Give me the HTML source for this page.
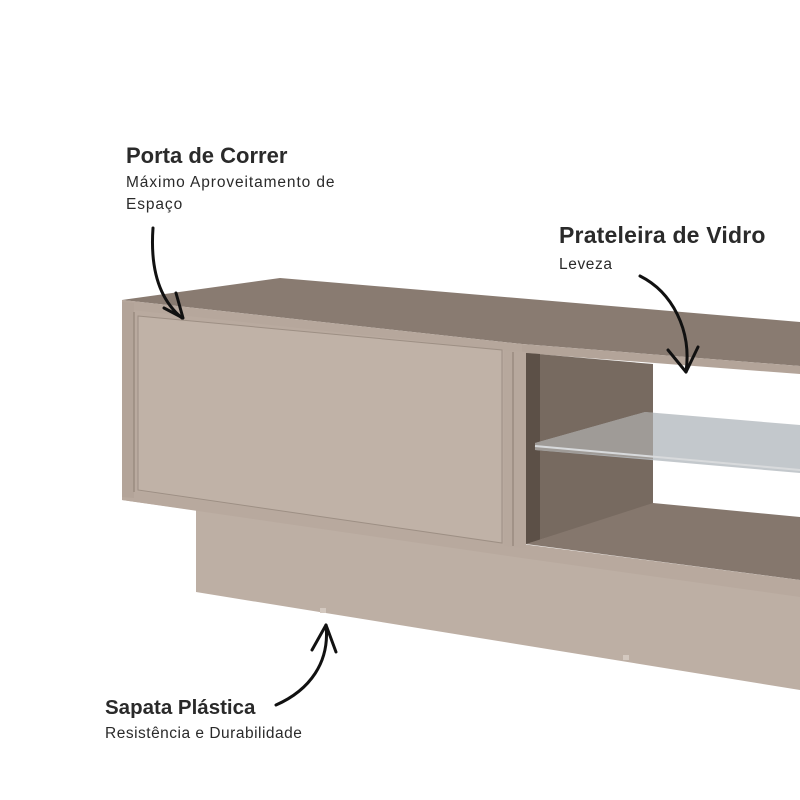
<!DOCTYPE html>
<html><head><meta charset="utf-8"><style>
html,body{margin:0;padding:0;background:#fff;}
svg{display:block}
text{font-family:"Liberation Sans",sans-serif;fill:#2a2a2a}
</style></head><body>
<svg width="800" height="800" viewBox="0 0 800 800" xmlns="http://www.w3.org/2000/svg">
<rect width="800" height="800" fill="#fff"/>
<polygon points="196,505 800,585 800,690 196,592" fill="#bdafa4"/>
<polygon points="122,300 522,346 522,556 122,500" fill="#b9aa9f"/>
<polygon points="280,278 800,322 800,366 522,344 122,300" fill="#897b71"/>
<polygon points="122,300 522,344 522,352 122,309" fill="#b6a79c"/>
<polygon points="522,344 800,366 800,374 522,353" fill="#b3a499"/>
<polygon points="526,353 653,364 653,505 526,544" fill="#776a60"/>
<polygon points="526,353 540,354 540,540 526,544" fill="#5c5047"/>
<polygon points="526,544 653,503 800,517 800,580" fill="#85776d"/>
<polygon points="122,490 522,544 800,580 800,597 522,558 122,500" fill="#b8a99e"/>
<polygon points="504,350 526,352 526,548 504,546" fill="#b7a89d"/>
<line x1="513" y1="352" x2="513" y2="546" stroke="#9a8b80" stroke-width="1.5"/>
<polygon points="122,302 134,303 134,498 122,497" fill="#b3a499"/>
<line x1="134" y1="312" x2="134" y2="492" stroke="#9a8b80" stroke-width="1.5"/>
<polygon points="138,316 502,350 502,543 138,490" fill="#c0b2a7" stroke="#9d8f84" stroke-width="1"/>
<polygon points="535,443 645,412 800,425 800,473 535,450" fill="#b9bec3" opacity="0.85"/>
<polygon points="535,443 645,412 653,413 653,459 535,450" fill="#9d9894" opacity="0.9"/>
<line x1="535" y1="446" x2="800" y2="470" stroke="#d8dadc" stroke-width="2"/>
<rect x="320" y="608" width="6" height="5" fill="#d3c8bf"/>
<rect x="623" y="655" width="6" height="5" fill="#d3c8bf"/>
<g fill="none" stroke="#111" stroke-width="3" stroke-linecap="round" stroke-linejoin="round">
<path d="M153,228 C150,270 160,300 182,318"/>
<path d="M164,308 L183,318 L176,293"/>
<path d="M640,276 C672,292 692,330 686,372"/>
<path d="M668,350 L686,372 L698,347"/>
<path d="M276,705 C310,690 330,662 326,625"/>
<path d="M312,650 L326,625 L336,652"/>
</g>
<text x="126" y="163" font-size="22" font-weight="bold">Porta de Correr</text>
<text x="126" y="187" font-size="15.5" letter-spacing="0.9">Máximo Aproveitamento de</text>
<text x="126" y="209" font-size="15.5" letter-spacing="0.9">Espaço</text>
<text x="559" y="243" font-size="23" font-weight="bold" letter-spacing="0.2">Prateleira de Vidro</text>
<text x="559" y="269" font-size="15.5" letter-spacing="0.6">Leveza</text>
<text x="105" y="714" font-size="20.5" font-weight="bold">Sapata Plástica</text>
<text x="105" y="738" font-size="15.5" letter-spacing="0.5">Resistência e Durabilidade</text>
</svg>
</body></html>
